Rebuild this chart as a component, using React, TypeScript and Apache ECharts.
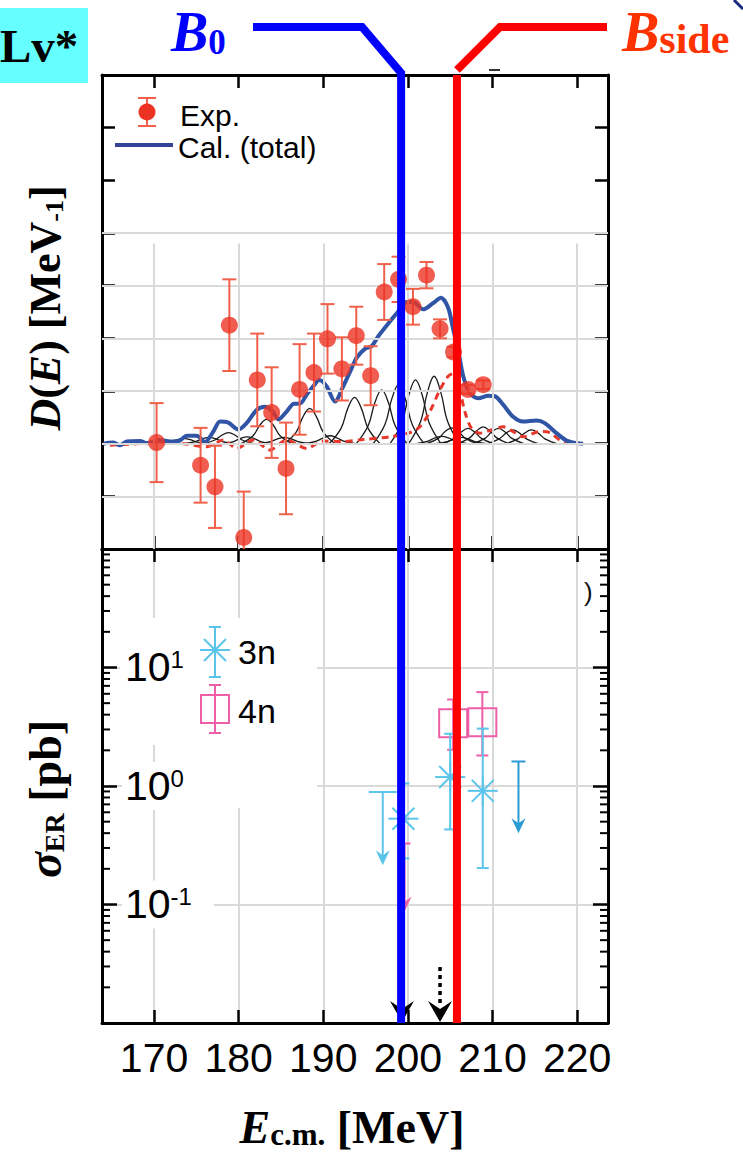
import React, { useEffect, useRef } from "react";
import * as echarts from "echarts";

// ---------- axis ranges / ticks ----------
const X_MIN = 163.85;
const X_MAX = 223.65;
const xGridTicks = [170, 180, 190, 200, 210, 220];
const topGridValues = [-1, 0, 1, 2, 3, 4];
const decades = [0.01, 0.1, 1, 10];
const minorMultipliers = [2, 3, 4, 5, 6, 7, 8, 9];

// ---------- top panel: D(E) ----------
const expEnergy = [170.3, 175.5, 177.2, 178.9, 180.6, 182.2, 183.9, 185.6, 187.2, 188.9, 190.5, 192.2, 193.9, 195.6, 197.2, 198.9, 200.6, 202.2, 203.8, 205.4, 207.1, 208.9];
const expValue = [0.02, -0.41, -0.82, 2.25, -1.78, 1.21, 0.59, -0.47, 1.03, 1.35, 1.99, 1.42, 2.05, 1.29, 2.88, 3.12, 2.6, 3.2, 2.18, 1.74, 1.03, 1.12];
const expError = [0.75, 0.71, 0.78, 0.87, 0.87, 0.88, 0.86, 0.87, 0.86, 0.74, 0.66, 0.6, 0.55, 0.56, 0.53, 0.43, 0.34, 0.25, 0.18, 0.1, 0.08, 0.08];

const calTotal = [
  [164.02, 0.0], [165.2, 0.02], [165.98, -0.03], [166.77, 0.04], [168.35, 0.05], [169.13, 0.01],
  [170.71, 0.07], [171.89, 0.04], [173.07, 0.06], [173.86, 0.15], [175.04, 0.15], [176.02, 0.03],
  [177.01, 0.23], [177.8, 0.42], [178.78, 0.4], [179.96, 0.27], [180.94, 0.39], [182.13, 0.64],
  [183.11, 0.7], [184.02, 0.61], [184.69, 0.46], [185.67, 0.61], [186.54, 0.76], [187.24, 0.76],
  [188.03, 0.93], [188.82, 1.09], [189.53, 1.21], [190.39, 1.09], [191.38, 0.8], [192.36, 1.09],
  [193.35, 1.43], [193.94, 1.63], [194.92, 1.8], [195.71, 1.85], [196.5, 2.04], [197.87, 2.32],
  [198.86, 2.51], [199.84, 2.69], [200.63, 2.69], [201.81, 2.55], [202.99, 2.67], [203.9, 2.77],
  [204.76, 2.58], [205.35, 2.17], [205.94, 1.78], [206.54, 1.28], [207.32, 0.96], [208.31, 0.86],
  [209.49, 0.91], [210.28, 0.9], [211.26, 0.74], [212.44, 0.51], [213.62, 0.42], [215.2, 0.44],
  [216.18, 0.39], [217.56, 0.2], [218.74, 0.06], [219.92, 0.01], [220.71, 0.0],
];

const calPartial = [
  [164.8, -0.03], [170.31, 0.01], [173.46, 0.0], [176.22, -0.06], [178.19, 0.07], [179.76, -0.09],
  [181.73, 0.07], [183.7, -0.12], [185.67, 0.07], [188.03, -0.09], [190.0, 0.05], [192.36, 0.04],
  [194.72, 0.08], [197.87, 0.13], [200.24, 0.21], [201.42, 0.32], [202.6, 0.61], [203.78, 1.02],
  [204.76, 1.28], [205.35, 1.33], [205.94, 1.15], [206.73, 0.61], [207.52, 0.29], [208.5, 0.2],
  [210.08, 0.27], [211.26, 0.32], [212.44, 0.23], [213.62, 0.13], [215.59, 0.23], [216.77, 0.21],
  [217.95, 0.07], [219.13, 0.0],
];

const components = [
  [[164, 0], [221, 0]],
  [[170.5, 0], [171.9, 0.03], [172.7, 0.075], [173.5, 0.1], [174.3, 0.075], [175.1, 0.03], [176.5, 0]],
  [[173.5, 0], [174.9, 0.04], [175.7, 0.09], [176.5, 0.12], [177.3, 0.09], [178.1, 0.04], [179.5, 0]],
  [[175.8, 0], [177.2, 0.07], [178.0, 0.16], [178.8, 0.21], [179.6, 0.16], [180.4, 0.07], [181.8, 0]],
  [[178.0, 0], [179.4, 0.04], [180.2, 0.1], [181.0, 0.13], [181.8, 0.1], [182.6, 0.04], [184.0, 0]],
  [[180.3, 0], [181.7, 0.15], [182.5, 0.35], [183.3, 0.46], [184.1, 0.35], [184.9, 0.15], [186.3, 0]],
  [[182.4, 0], [183.8, 0.04], [184.6, 0.09], [185.4, 0.12], [186.2, 0.09], [187.0, 0.04], [188.4, 0]],
  [[185.4, 0], [186.8, 0.22], [187.6, 0.51], [188.4, 0.67], [189.2, 0.51], [190.0, 0.22], [191.4, 0]],
  [[187.8, 0], [189.2, 0.05], [190.0, 0.11], [190.8, 0.15], [191.6, 0.11], [192.4, 0.05], [193.8, 0]],
  [[190.7, 0], [192.1, 0.29], [192.9, 0.67], [193.7, 0.88], [194.5, 0.67], [195.3, 0.29], [196.7, 0]],
  [[193.9, 0], [195.3, 0.34], [196.1, 0.78], [196.9, 1.02], [197.7, 0.78], [198.5, 0.34], [199.9, 0]],
  [[195.9, 0], [197.3, 0.37], [198.1, 0.85], [198.9, 1.12], [199.7, 0.85], [200.5, 0.37], [201.9, 0]],
  [[197.9, 0], [199.3, 0.4], [200.1, 0.92], [200.9, 1.21], [201.7, 0.92], [202.5, 0.4], [203.9, 0]],
  [[200.1, 0], [201.5, 0.42], [202.3, 0.97], [203.1, 1.28], [203.9, 0.97], [204.7, 0.42], [206.1, 0]],
  [[201.0, 0], [202.4, 0.05], [203.2, 0.11], [204.0, 0.14], [204.8, 0.11], [205.6, 0.05], [207.0, 0]],
  [[202.2, 0], [203.6, 0.1], [204.4, 0.23], [205.2, 0.3], [206.0, 0.23], [206.8, 0.1], [208.2, 0]],
  [[203.3, 0], [204.7, 0.04], [205.5, 0.09], [206.3, 0.12], [207.1, 0.09], [207.9, 0.04], [209.3, 0]],
  [[204.1, 0], [205.5, 0.1], [206.3, 0.22], [207.1, 0.29], [207.9, 0.22], [208.7, 0.1], [210.1, 0]],
  [[205.9, 0], [207.3, 0.11], [208.1, 0.24], [208.9, 0.32], [209.7, 0.24], [210.5, 0.11], [211.9, 0]],
  [[207.7, 0], [209.1, 0.1], [209.9, 0.22], [210.7, 0.29], [211.5, 0.22], [212.3, 0.1], [213.7, 0]],
  [[209.4, 0], [210.8, 0.09], [211.6, 0.2], [212.4, 0.26], [213.2, 0.2], [214.0, 0.09], [215.4, 0]],
  [[211.6, 0], [213.0, 0.09], [213.8, 0.2], [214.6, 0.26], [215.4, 0.2], [216.2, 0.09], [217.6, 0]],
];

// ---------- bottom panel: sigma_ER ----------
const n3Energy = [199.47, 205.0, 208.85];
const n3Value = [0.53, 1.19, 0.91];
const n3Low = [0.245, 0.43, 0.203];
const n3High = [1.05, 2.76, 3.05];

const n3LimitEnergy = [197.03, 213.07];
const n3LimitValue = [0.89, 1.61];
const n3LimitTip = [0.214, 0.4];

const n4Energy = [205.35, 208.8];
const n4Value = [3.39, 3.45];
const n4Low = [2.02, 1.81];
const n4High = [5.37, 6.2];

const n4LimitEnergy = [199.6];
const n4LimitValue = [0.327];
const n4LimitTip = [0.087];

// ---------- annotations ----------
const b0Energy = 199.2;
const bSideEnergy = 205.8;
const arrowEnergies = [199.3, 203.8];
const arrowDotted = [false, true];

// ---------- styles ----------
const SANS = '"Liberation Sans", Arial, Helvetica, sans-serif';
const SERIF = '"Liberation Serif", "Times New Roman", serif';
const EXP_RED = "#EC3323";
const EXP_BAR = "#F0604A";
const CAL_BLUE = "#3054A6";
const DASH_RED = "#E8372B";
const N3_BLUE = "#5BC4EA";
const N3_DARK = "#2B9BD5";
const N4_PINK = "#EE5FA7";
const GRID_GRAY = "#D9D9D9";

function line(x1: number, y1: number, x2: number, y2: number, stroke: string, lineWidth = 2, extra: any = {}) {
  return { type: "line", shape: { x1, y1, x2, y2 }, style: { stroke, lineWidth, ...extra } };
}

function errorBarItem(color: string, capHalf: number) {
  return (params: any, api: any) => {
    const x = api.value(0);
    const lo = api.coord([x, api.value(2)]);
    const hi = api.coord([x, api.value(3)]);
    return {
      type: "group",
      children: [
        line(lo[0], lo[1], hi[0], hi[1], color, 2),
        line(lo[0] - capHalf, lo[1], lo[0] + capHalf, lo[1], color, 2),
        line(hi[0] - capHalf, hi[1], hi[0] + capHalf, hi[1], color, 2),
      ],
    };
  };
}

function asteriskItem(params: any, api: any) {
  const x = api.value(0);
  const c = api.coord([x, api.value(1)]);
  const lo = api.coord([x, api.value(2)]);
  const hi = api.coord([x, api.value(3)]);
  const r = 15, d = 11, cap = 6;
  return {
    type: "group",
    children: [
      line(lo[0], lo[1], hi[0], hi[1], N3_BLUE),
      line(lo[0] - cap, lo[1], lo[0] + cap, lo[1], N3_BLUE),
      line(hi[0] - cap, hi[1], hi[0] + cap, hi[1], N3_BLUE),
      line(c[0] - r, c[1], c[0] + r, c[1], N3_BLUE),
      line(c[0], c[1] - r, c[0], c[1] + r, N3_BLUE),
      line(c[0] - d, c[1] - d, c[0] + d, c[1] + d, N3_BLUE),
      line(c[0] - d, c[1] + d, c[0] + d, c[1] - d, N3_BLUE),
    ],
  };
}

function squareItem(params: any, api: any) {
  const x = api.value(0);
  const c = api.coord([x, api.value(1)]);
  const lo = api.coord([x, api.value(2)]);
  const hi = api.coord([x, api.value(3)]);
  const h = 14, cap = 6;
  return {
    type: "group",
    children: [
      line(lo[0], lo[1], hi[0], hi[1], N4_PINK),
      line(lo[0] - cap, lo[1], lo[0] + cap, lo[1], N4_PINK),
      line(hi[0] - cap, hi[1], hi[0] + cap, hi[1], N4_PINK),
      { type: "rect", shape: { x: c[0] - h, y: c[1] - h, width: 2 * h, height: 2 * h }, style: { fill: "none", stroke: N4_PINK, lineWidth: 2 } },
    ],
  };
}

function limitItem(colors: string[], caps: number[]) {
  return (params: any, api: any) => {
    const i = params.dataIndex;
    const color = colors[i % colors.length];
    const capHalf = caps[i % caps.length];
    const x = api.value(0);
    const top = api.coord([x, api.value(1)]);
    const tip = api.coord([x, api.value(2)]);
    return {
      type: "group",
      children: [
        line(top[0] - capHalf, top[1], top[0] + capHalf, top[1], color),
        line(top[0], top[1], tip[0], tip[1] - 8, color),
        {
          type: "polygon",
          shape: { points: [[tip[0] - 7, tip[1] - 15], [tip[0], tip[1] - 10], [tip[0] + 7, tip[1] - 15], [tip[0], tip[1]]] },
          style: { fill: color },
        },
      ],
    };
  };
}

function buildOption() {
  const minorTicks: number[][] = [];
  decades.forEach((d) => minorMultipliers.forEach((m) => minorTicks.push([200, d * m])));

  const vGrid = xGridTicks.map((x) => [{ coord: [x, -2] }, { coord: [x, 3.8] }]);
  const hGrid = topGridValues.map((v) => [{ coord: [X_MIN, v] }, { coord: [X_MAX, v] }]);

  const axisLine = { show: true, onZero: false, lineStyle: { color: "#000", width: 3 } };
  const axisTick = { show: true, inside: true, length: 13, lineStyle: { color: "#000", width: 2.5 } };

  const xBase = { type: "value", min: X_MIN, max: X_MAX, axisLine, axisTick, axisLabel: { show: false }, splitLine: { show: false } };

  return {
    animation: false,
    backgroundColor: "#fff",
    grid: [
      { left: 102, top: 75, width: 506, height: 474, outerBoundsMode: "none" },
      { left: 102, top: 549, width: 506, height: 474, outerBoundsMode: "none" },
    ],
    xAxis: [
      { ...xBase, gridIndex: 0, position: "bottom" },
      { ...xBase, gridIndex: 0, position: "top" },
      {
        ...xBase,
        gridIndex: 1,
        position: "bottom",
        axisLabel: { show: true, color: "#000", fontSize: 41, fontFamily: SANS, margin: 14, showMinLabel: false, showMaxLabel: false },
        splitLine: { show: true, lineStyle: { color: GRID_GRAY, width: 2 } },
      },
      { ...xBase, gridIndex: 1, position: "top" },
    ],
    yAxis: [
      { type: "value", gridIndex: 0, position: "left", min: -2, max: 7, interval: 1, axisLine, axisTick, axisLabel: { show: false }, splitLine: { show: false } },
      { type: "value", gridIndex: 0, position: "right", min: -2, max: 7, interval: 1, axisLine, axisTick, axisLabel: { show: false }, splitLine: { show: false } },
      {
        type: "log", logBase: 10, gridIndex: 1, position: "left", min: 0.01, max: 100,
        axisLine, axisTick: { ...axisTick, length: 15 }, axisLabel: { show: false },
        splitLine: { show: true, lineStyle: { color: GRID_GRAY, width: 2 } },
      },
      {
        type: "log", logBase: 10, gridIndex: 1, position: "left", min: 0.01, max: 100, z: 10,
        axisLine: { show: false }, axisTick: { show: false }, splitLine: { show: false },
        axisLabel: {
          show: true, inside: true, margin: 20, showMinLabel: false, showMaxLabel: false,
          backgroundColor: "#fff", padding: [4, 22, 4, 3],
          formatter: (v: number) => `{b|10}{s|${Math.round(Math.log10(v))}}`,
          rich: {
            b: { fontSize: 41, lineHeight: 40, fontFamily: SANS, color: "#000", verticalAlign: "bottom" },
            s: { fontSize: 24, lineHeight: 26, fontFamily: SANS, color: "#000", verticalAlign: "top" },
          },
        },
      },
      {
        type: "log", logBase: 10, gridIndex: 1, position: "right", min: 0.01, max: 100,
        axisLine, axisTick: { ...axisTick, length: 15 }, axisLabel: { show: false }, splitLine: { show: false },
      },
    ],
    series: [
      {
        type: "line", xAxisIndex: 0, yAxisIndex: 0, data: [], z: 1, silent: true,
        markLine: { silent: true, symbol: ["none", "none"], label: { show: false }, lineStyle: { color: GRID_GRAY, width: 2, type: "solid" }, data: [...vGrid, ...hGrid] },
      },
      ...components.map((c) => ({
        type: "line", xAxisIndex: 0, yAxisIndex: 0, data: c, smooth: 0.4, showSymbol: false, silent: true, z: 2,
        lineStyle: { color: "#1a1a1a", width: 1.3 },
      })),
      {
        type: "line", xAxisIndex: 0, yAxisIndex: 0, data: calPartial, smooth: 0.3, showSymbol: false, z: 3,
        lineStyle: { color: DASH_RED, width: 3, type: [7, 5] },
      },
      {
        type: "line", xAxisIndex: 0, yAxisIndex: 0, data: calTotal, smooth: 0.3, showSymbol: false, z: 4,
        lineStyle: { color: CAL_BLUE, width: 4 },
      },
      {
        type: "custom", xAxisIndex: 0, yAxisIndex: 0, clip: true, z: 5,
        data: expEnergy.map((e, i) => [e, expValue[i], expValue[i] - expError[i], expValue[i] + expError[i]]),
        encode: { x: 0, y: 1 },
        renderItem: errorBarItem(EXP_BAR, 7),
      },
      {
        type: "scatter", xAxisIndex: 0, yAxisIndex: 0, z: 6, symbol: "circle", symbolSize: 17,
        itemStyle: { color: EXP_RED },
        data: expEnergy.map((e, i) => [e, expValue[i]]),
      },
      {
        type: "custom", xAxisIndex: 2, yAxisIndex: 2, z: 3, silent: true,
        data: minorTicks,
        encode: { x: 0, y: 1 },
        renderItem: (params: any, api: any) => {
          const cs = params.coordSys;
          const y = api.coord([200, api.value(1)])[1];
          return {
            type: "group",
            children: [
              line(cs.x, y, cs.x + 8, y, "#000", 2),
              line(cs.x + cs.width - 8, y, cs.x + cs.width, y, "#000", 2),
            ],
          };
        },
      },
      {
        type: "custom", xAxisIndex: 2, yAxisIndex: 2, clip: true, z: 5,
        data: n4Energy.map((e, i) => [e, n4Value[i], n4Low[i], n4High[i]]),
        encode: { x: 0, y: 1 },
        renderItem: squareItem,
      },
      {
        type: "custom", xAxisIndex: 2, yAxisIndex: 2, clip: true, z: 5,
        data: n4LimitEnergy.map((e, i) => [e, n4LimitValue[i], n4LimitTip[i]]),
        encode: { x: 0, y: 1 },
        renderItem: limitItem([N4_PINK], [6]),
      },
      {
        type: "custom", xAxisIndex: 2, yAxisIndex: 2, clip: true, z: 6,
        data: n3Energy.map((e, i) => [e, n3Value[i], n3Low[i], n3High[i]]),
        encode: { x: 0, y: 1 },
        renderItem: asteriskItem,
      },
      {
        type: "custom", xAxisIndex: 2, yAxisIndex: 2, clip: true, z: 6,
        data: n3LimitEnergy.map((e, i) => [e, n3LimitValue[i], n3LimitTip[i]]),
        encode: { x: 0, y: 1 },
        renderItem: limitItem([N3_BLUE, N3_DARK], [14, 7]),
      },
    ],
  };
}

function richText(x: number, y: number, text: string, rich: any, extra: any = {}, z = 60) {
  return { type: "text", x, y, z, ...extra, style: { text, rich, ...(extra.style || {}) } };
}

function buildGraphics(xB: number, xR: number, yBot: number, arrowX: number[]) {
  const els: any[] = [];
  const serifB = (size: number, lh: number, fill: string, italic: boolean) => ({
    fontSize: size, lineHeight: lh, fontFamily: SERIF, fontWeight: "bold", fontStyle: italic ? "italic" : "normal", fill, verticalAlign: "bottom",
  });

  // Lv* label
  els.push({ type: "rect", z: 50, shape: { x: 0, y: 8, width: 88, height: 75 }, style: { fill: "#66FFFF" } });
  els.push({ type: "text", z: 51, x: 0, y: 46, style: { text: "Lv*", font: `bold 47px ${SERIF}`, fill: "#000", verticalAlign: "middle", align: "left" } });

  // B0 and Bside labels
  els.push(richText(171, 10, "{b|B}{s|0}", { b: serifB(56, 50, "#0000FF", true), s: serifB(35, 28, "#0000FF", false) }, { style: { align: "left", verticalAlign: "top" } }));
  els.push(richText(622, 10, "{b|B}{s|side}", { b: serifB(56, 50, "#FF3300", true), s: serifB(42, 38, "#FF3300", false) }, { style: { align: "left", verticalAlign: "top" } }));

  // marker lines
  els.push({ type: "polyline", z: 100, shape: { points: [[253, 27], [362, 27], [xB, 73], [xB, yBot]] }, style: { stroke: "#0000FF", lineWidth: 8, fill: "none", lineJoin: "miter" } });
  els.push({ type: "polyline", z: 100, shape: { points: [[xR, 70], [500, 27], [607, 27]] }, style: { stroke: "#FF0000", lineWidth: 8, fill: "none", lineJoin: "miter" } });
  els.push({ type: "line", z: 100, shape: { x1: xR, y1: 75, x2: xR, y2: yBot }, style: { stroke: "#FF0000", lineWidth: 8 } });

  // small stray marks
  els.push({ type: "line", z: 40, shape: { x1: 489, y1: 70, x2: 500, y2: 70 }, style: { stroke: "#333", lineWidth: 2 } });
  els.push({ type: "line", z: 40, shape: { x1: 734, y1: 0, x2: 743, y2: 9 }, style: { stroke: "#1A2A80", lineWidth: 3 } });
  els.push({ type: "text", z: 40, x: 584, y: 592, style: { text: ")", font: `26px ${SANS}`, fill: "#111", verticalAlign: "middle" } });

  // black arrows at bottom
  arrowX.forEach((x, i) => {
    if (arrowDotted[i]) {
      els.push({ type: "line", z: 90, shape: { x1: x, y1: 967, x2: x, y2: 1006 }, style: { stroke: "#000", lineWidth: 3.5, lineDash: [4, 4] } });
    }
    els.push({ type: "polygon", z: 90, shape: { points: [[x - 12, yBot - 22], [x, yBot - 14], [x + 12, yBot - 22], [x, yBot - 1]] }, style: { fill: "#000" } });
  });

  // axis titles
  els.push(richText(45, 308, "{i|D}{n|(}{i|E}{n|) [MeV}{s|-1}{n|]}", {
    i: serifB(44, 44, "#000", true), n: serifB(44, 44, "#000", false), s: serifB(26, 24, "#000", false),
  }, { rotation: Math.PI / 2, style: { align: "center", verticalAlign: "middle" } }));
  els.push(richText(45, 799, "{i|σ}{s|ER}{n| [pb]}", {
    i: serifB(48, 46, "#000", true), n: serifB(46, 46, "#000", false), s: serifB(28, 32, "#000", false),
  }, { rotation: Math.PI / 2, style: { align: "center", verticalAlign: "middle" } }));
  els.push(richText(352, 1110, "{i|E}{s|c.m.}{n| [MeV]}", {
    i: serifB(46, 40, "#000", true), n: serifB(46, 40, "#000", false), s: serifB(31, 28, "#000", false),
  }, { style: { align: "center", verticalAlign: "top" } }));

  // top legend
  els.push({ type: "line", z: 60, shape: { x1: 147, y1: 98, x2: 147, y2: 126 }, style: { stroke: EXP_BAR, lineWidth: 2 } });
  els.push({ type: "line", z: 60, shape: { x1: 138, y1: 98, x2: 156, y2: 98 }, style: { stroke: EXP_BAR, lineWidth: 2 } });
  els.push({ type: "line", z: 60, shape: { x1: 138, y1: 126, x2: 156, y2: 126 }, style: { stroke: EXP_BAR, lineWidth: 2 } });
  els.push({ type: "circle", z: 61, shape: { cx: 147, cy: 112, r: 8.5 }, style: { fill: EXP_RED } });
  els.push({ type: "text", z: 61, x: 180, y: 115, style: { text: "Exp.", font: `30px ${SANS}`, fill: "#000", verticalAlign: "middle" } });
  els.push({ type: "line", z: 60, shape: { x1: 115, y1: 145, x2: 173, y2: 145 }, style: { stroke: "#33449A", lineWidth: 4 } });
  els.push({ type: "text", z: 61, x: 178, y: 147, style: { text: "Cal. (total)", font: `30px ${SANS}`, fill: "#000", verticalAlign: "middle" } });

  // bottom legend (white box covering grid lines)
  els.push({ type: "rect", z: 1, shape: { x: 120, y: 618, width: 197, height: 127 }, style: { fill: "#fff" } });
  els.push({ type: "rect", z: 1, shape: { x: 190, y: 745, width: 127, height: 63 }, style: { fill: "#fff" } });
  const ax = 215, ay = 650;
  [[ax, 627, ax, 677], [ax - 6, 627, ax + 6, 627], [ax - 6, 677, ax + 6, 677], [ax - 15, ay, ax + 15, ay], [ax - 11, ay - 11, ax + 11, ay + 11], [ax - 11, ay + 11, ax + 11, ay - 11]].forEach((s) =>
    els.push({ type: "line", z: 60, shape: { x1: s[0], y1: s[1], x2: s[2], y2: s[3] }, style: { stroke: N3_BLUE, lineWidth: 2 } }),
  );
  els.push({ type: "text", z: 61, x: 238, y: 652, style: { text: "3n", font: `34px ${SANS}`, fill: "#000", verticalAlign: "middle" } });
  const sy = 709;
  [[ax, 685, ax, 733], [ax - 6, 685, ax + 6, 685], [ax - 6, 733, ax + 6, 733]].forEach((s) =>
    els.push({ type: "line", z: 60, shape: { x1: s[0], y1: s[1], x2: s[2], y2: s[3] }, style: { stroke: N4_PINK, lineWidth: 2 } }),
  );
  els.push({ type: "rect", z: 60, shape: { x: ax - 14, y: sy - 14, width: 28, height: 28 }, style: { fill: "none", stroke: N4_PINK, lineWidth: 2 } });
  els.push({ type: "text", z: 61, x: 238, y: 711, style: { text: "4n", font: `34px ${SANS}`, fill: "#000", verticalAlign: "middle" } });

  return els;
}

export default function App() {
  const ref = useRef<HTMLDivElement>(null);
  useEffect(() => {
    if (!ref.current) return;
    const chart = echarts.init(ref.current, null, { renderer: "svg" });
    chart.setOption(buildOption() as any);
    const toX = (e: number) => {
      const p = chart.convertToPixel({ xAxisIndex: 2, yAxisIndex: 2 } as any, [e, 1]) as any;
      return p[0] as number;
    };
    const pb = chart.convertToPixel({ xAxisIndex: 2, yAxisIndex: 2 } as any, [200, 0.01]) as any;
    const yBot = pb && isFinite(pb[1]) ? pb[1] : 1023;
    chart.setOption({
      graphic: { elements: buildGraphics(toX(b0Energy), toX(bSideEnergy), yBot, arrowEnergies.map(toX)) },
    } as any);
    return () => chart.dispose();
  }, []);
  return <div ref={ref} style={{ position: "absolute", left: 0, top: 0, width: 743, height: 1152 }} />;
}
